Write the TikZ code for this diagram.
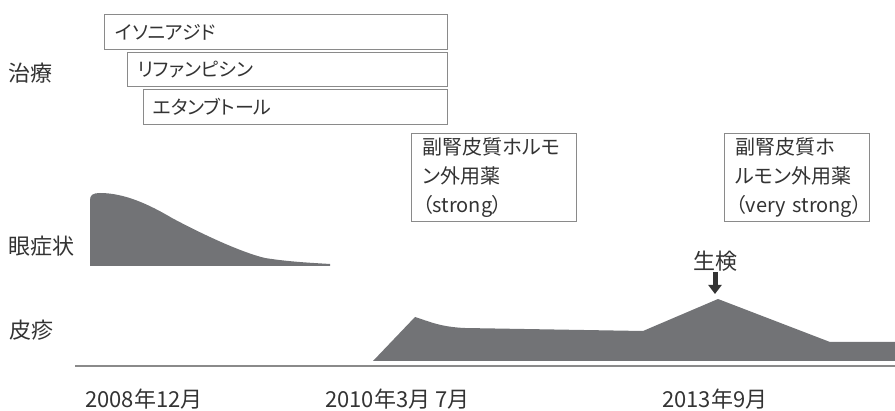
\documentclass[tikz,border=0pt]{standalone}
\usepackage{fontspec}
\setmainfont{Noto Sans CJK JP}
\newfontfamily\boxfont{Noto Sans CJK JP}[RawFeature=+palt]
\usetikzlibrary{arrows.meta}
\definecolor{shade}{HTML}{727376}
\definecolor{frame}{HTML}{8A8A8A}
\definecolor{ink}{HTML}{333333}
\begin{document}
\begin{tikzpicture}[x=1pt,y=-1pt,
  lbl/.style={font=\fontsize{22}{26}\selectfont, text=ink, inner sep=0pt},
  drug/.style={draw=frame, line width=1.4pt, anchor=north west, fill=white,
    font=\boxfont\fontsize{19}{22}\selectfont, text=ink, align=left, inner ysep=0pt},
  steroid/.style={draw=frame, line width=1.4pt, anchor=north west, fill=white,
    font=\boxfont\fontsize{20}{29}\selectfont, text=ink, align=left, inner ysep=0pt,
    minimum height=88pt, inner xsep=11pt},
  area/.style={fill=shade, draw=none}]
\useasboundingbox (0,0) rectangle (895,411);

% treatment boxes
\node[drug, minimum height=35pt, text width=321pt, inner xsep=11pt] (iso) at (104,14) {イソニアジド};
\node[drug, minimum height=34pt, text width=300pt, inner xsep=10pt] (rif) at (127,52) {リファンピシン};
\node[drug, minimum height=35pt, text width=286pt, inner xsep=9pt] (eth) at (143,89) {エタンブトール};

% steroid boxes
\node[steroid, text width=143pt] (st1) at (411,133) {副腎皮質ホルモ\\ン外用薬\\（strong）};
\node[steroid, text width=123pt] (st2) at (724,133) {副腎皮質ホ\\ルモン外用薬\\（very~strong）};

% row labels
\node[lbl, anchor=west] (tx) at (8,73) {治療};
\node[lbl, anchor=west] (eye) at (8,246) {眼症状};
\node[lbl, anchor=west] (skin) at (9,330) {皮疹};

% eye symptom area
\fill[area] (90,265) -- (90,200) .. controls (90,195) and (93,193) .. (100,193)
  .. controls (125,193) and (150,205) .. (172,218)
  .. controls (200,233) and (240,252) .. (265,258)
  .. controls (290,262) and (315,263) .. (330,264) -- (330,266) -- (90,266) -- cycle;

% skin area
\fill[area] (373,361) -- (415,317) .. controls (428,321) and (440,327) .. (465,328)
  -- (643,331) -- (718,299) -- (830,342) -- (895,342) -- (895,361) -- cycle;

% time axis
\draw[frame, line width=2pt] (75,366) -- (895,366);

% dates
\node[lbl, anchor=west] (d1) at (85,399) {2008年12月};
\node[lbl, anchor=west] (d2) at (325,399) {2010年3月 7月};
\node[lbl, anchor=west] (d3) at (662,399) {2013年9月};

% biopsy
\node[lbl] (bio) at (715,261) {生検};
\coordinate (peak) at (715,294);
\draw[ink, line width=5pt, -{Triangle[width=13pt,length=9pt]}] ([yshift=-1pt]bio.south) -- (peak);
\end{tikzpicture}
\end{document}
